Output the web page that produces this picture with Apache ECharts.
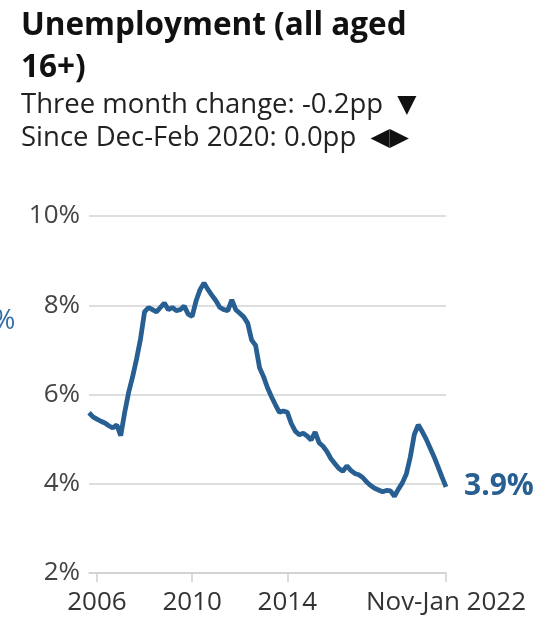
<!DOCTYPE html>
<html>
<head>
<meta charset="utf-8">
<script src="https://cdn.jsdelivr.net/npm/echarts@6/dist/echarts.min.js"></script>
<style>
  html, body { margin: 0; padding: 0; background: #fff; }
  #chart { width: 541px; height: 619px; }
</style>
</head>
<body>
<div id="chart"></div>
<script>
// unemployment rate (%), one point every two months
const rates = [
  5.59, 5.5, 5.45, 5.4, 5.36, 5.3, 5.25, 5.32, 5.08, 5.6,
  6.05, 6.4, 6.8, 7.25, 7.85, 7.95, 7.9, 7.85, 7.95, 8.05,
  7.9, 7.95, 7.88, 7.9, 7.98, 7.8, 7.75, 8.1, 8.35, 8.5,
  8.35, 8.22, 8.1, 7.95, 7.9, 7.88, 8.12, 7.9, 7.82, 7.74,
  7.6, 7.22, 7.1, 6.6, 6.4, 6.15, 5.95, 5.77, 5.6, 5.63,
  5.6, 5.35, 5.18, 5.1, 5.13, 5.07, 4.98, 5.16, 4.92, 4.84,
  4.72, 4.56, 4.45, 4.34, 4.28, 4.4, 4.3, 4.23, 4.2, 4.14,
  4.04, 3.96, 3.9, 3.86, 3.82, 3.85, 3.84, 3.72, 3.88, 4.02,
  4.22, 4.6, 5.1, 5.32, 5.17, 5.0, 4.8, 4.6, 4.38, 4.15,
  3.93
];
// x-axis tick positions (point index) and their labels
const tickIndex = [2, 26, 50, 90];
const tickLabels = ["2006", "2010", "2014", "Nov-Jan 2022"];
const yTicks = [2, 4, 6, 8, 10];

const blue = "#285f92";
const chart = echarts.init(document.getElementById("chart"));
const categories = rates.map((v, i) => String(i));
const isTick = (i) => tickIndex.indexOf(i) >= 0;

chart.setOption({
  animation: false,
  textStyle: { fontFamily: "Open Sans" },
  title: {
    text: "Unemployment (all aged\n16+)",
    subtext: "{t|Three month change: -0.2pp  }{s|\u25BC}\n{t|Since Dec-Feb 2020: 0.0pp  }{s|\u25C0\u25B6}",
    left: 16,
    top: 0,
    itemGap: 0,
    textStyle: {
      fontFamily: "Open Sans",
      fontWeight: "bold",
      fontSize: 31.5,
      lineHeight: 42,
      color: "#111"
    },
    subtextStyle: {
      fontFamily: "Open Sans",
      fontSize: 27.5,
      lineHeight: 33,
      color: "#222",
      rich: {
        t: { fontFamily: "Open Sans", fontSize: 27.5, lineHeight: 33, color: "#222" },
        s: { fontFamily: "DejaVu Sans", fontSize: 25, lineHeight: 33, color: "#111" }
      }
    }
  },
  graphic: [
    {
      type: "text",
      left: -7,
      top: 308,
      style: { text: "%", fontSize: 27, fill: "#2f6ea6", fontFamily: "Open Sans" }
    }
  ],
  grid: { left: 89, right: 95, top: 216, bottom: 46 },
  xAxis: {
    type: "category",
    data: categories,
    boundaryGap: false,
    axisLine: { show: true, lineStyle: { color: "#cfcfcf", width: 1.5 } },
    axisTick: {
      show: true,
      length: 9,
      interval: (i) => isTick(i),
      lineStyle: { color: "#cfcfcf", width: 1.5 }
    },
    axisLabel: {
      interval: (i) => isTick(i),
      formatter: (v, i) => tickLabels[tickIndex.indexOf(i)] || "",
      fontSize: 26,
      color: "#333",
      margin: 17
    },
    splitLine: { show: false }
  },
  yAxis: {
    type: "value",
    min: yTicks[0],
    max: yTicks[yTicks.length - 1],
    interval: 2,
    axisLine: { show: false },
    axisTick: { show: false },
    axisLabel: {
      formatter: "{value}%",
      fontSize: 26,
      color: "#444",
      margin: 9
    },
    splitLine: { lineStyle: { color: "#d3d3d3", width: 1.5 } }
  },
  series: [
    {
      type: "line",
      data: rates,
      showSymbol: false,
      lineStyle: { color: blue, width: 4.8 },
      endLabel: {
        show: true,
        formatter: (p) => p.value.toFixed(1) + "%",
        color: blue,
        fontWeight: "bold",
        fontSize: 30,
        distance: 18
      }
    }
  ]
});
</script>
</body>
</html>
